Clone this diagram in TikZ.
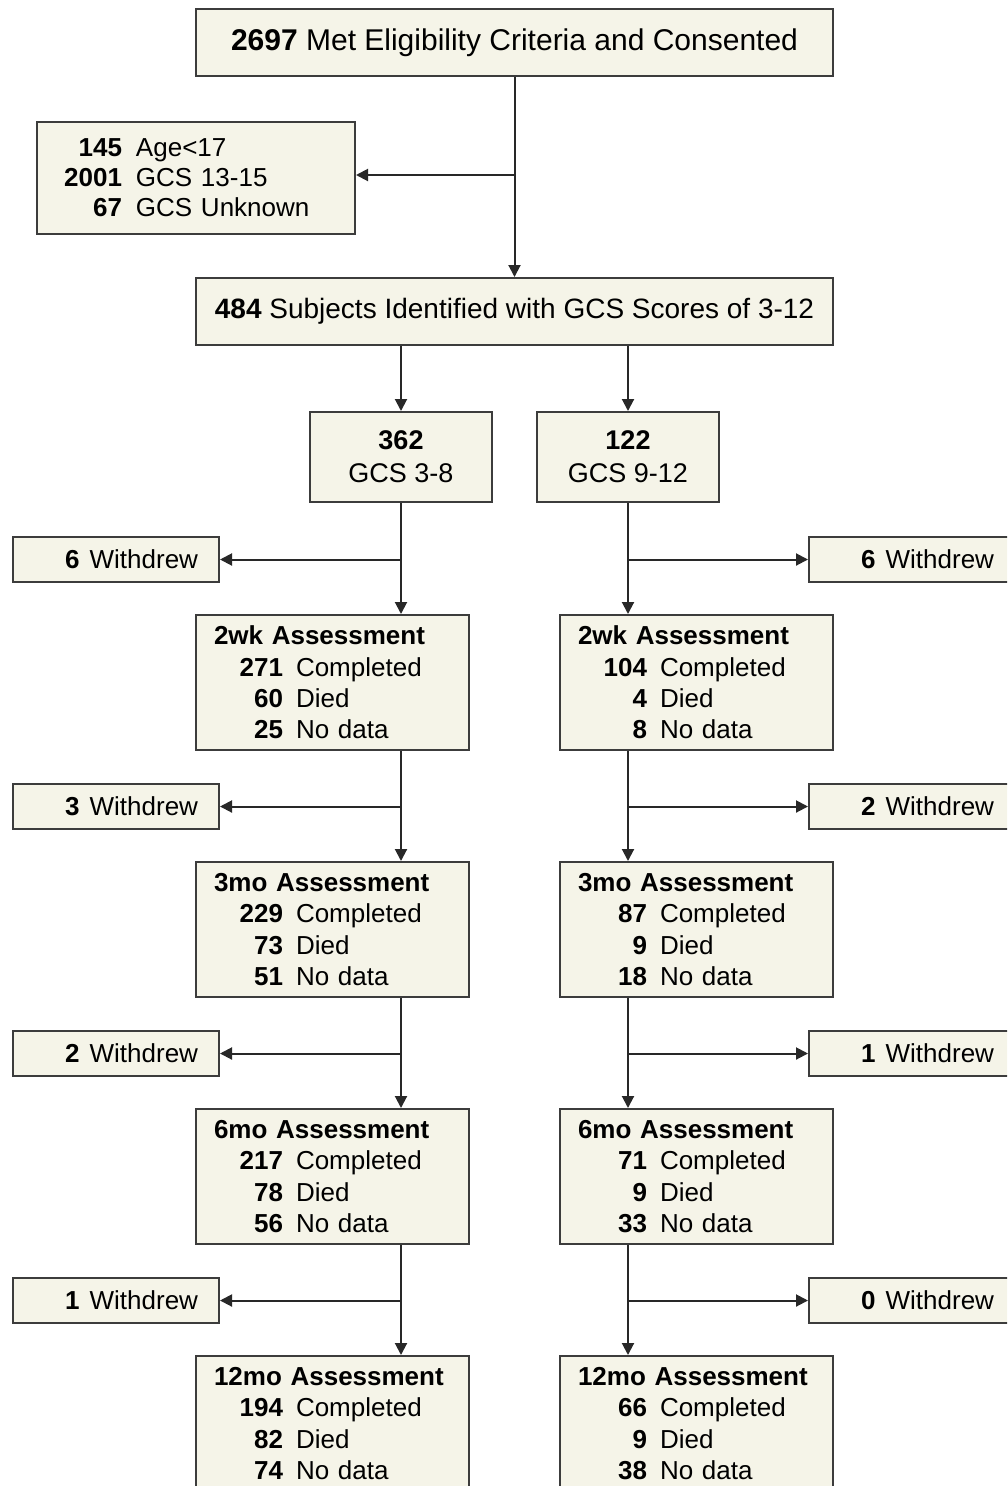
\documentclass[tikz,border=0pt]{standalone}
\usepackage{fontspec}
\setmainfont{Liberation Sans}
\usetikzlibrary{arrows.meta}
\definecolor{boxfill}{RGB}{245,244,232}
\definecolor{boxline}{RGB}{60,60,60}
\definecolor{conn}{RGB}{40,40,40}
\newcommand{\nm}[2]{\makebox[#1][r]{\textbf{#2}}}
\begin{document}
\begin{tikzpicture}[x=1pt,y=-1pt,
  box/.style={draw=boxline, fill=boxfill, line width=2pt, rectangle, inner sep=0pt, anchor=north west},
  widebox/.style={box, minimum width=637pt, minimum height=67pt, align=center, font=\fontsize{28}{33}\selectfont},
  gbox/.style={box, minimum width=182pt, minimum height=90pt, align=center, font=\fontsize{27}{33}\selectfont},
  abox/.style={box, text width=237pt, inner xsep=18pt, minimum height=135pt, align=left, font=\fontsize{26}{31.3}\selectfont},
  wbox/.style={box, text width=164pt, inner xsep=21pt, minimum height=45pt, align=right, font=\fontsize{26}{30}\selectfont},
  xbox/.style={box, text width=282pt, inner xsep=18pt, minimum height=112pt, align=left, font=\fontsize{26}{30}\selectfont},
  arr/.style={draw=conn, line width=2pt, -{Triangle[length=12pt,width=12pt]}},
  ]
\useasboundingbox (0,0) rectangle (1007,1486);
\clip (0,0) rectangle (1007,1486);

\node[widebox, font=\fontsize{30}{35}\selectfont] (top) at (195,8) {\textbf{2697} Met Eligibility Criteria and Consented};
\node[xbox] (excl) at (36,121) {\nm{67pt}{145}\hspace{14pt}Age<17\\\nm{67pt}{2001}\hspace{14pt}GCS 13-15\\\nm{67pt}{67}\hspace{14pt}GCS Unknown};
\node[widebox] (b484) at (195,277) {\textbf{484} Subjects Identified with GCS Scores of 3-12};
\node[gbox] (g38) at (309,411) {\textbf{362}\\GCS 3-8};
\node[gbox] (g912) at (536,411) {\textbf{122}\\GCS 9-12};

% withdrew boxes
\node[wbox] (w1L) at (12,536) {\textbf{6}\hspace{10pt}Withdrew};
\node[wbox] (w2L) at (12,783) {\textbf{3}\hspace{10pt}Withdrew};
\node[wbox] (w3L) at (12,1030) {\textbf{2}\hspace{10pt}Withdrew};
\node[wbox] (w4L) at (12,1277) {\textbf{1}\hspace{10pt}Withdrew};
\node[wbox] (w1R) at (808,536) {\textbf{6}\hspace{10pt}Withdrew};
\node[wbox] (w2R) at (808,783) {\textbf{2}\hspace{10pt}Withdrew};
\node[wbox] (w3R) at (808,1030) {\textbf{1}\hspace{10pt}Withdrew};
\node[wbox] (w4R) at (808,1277) {\textbf{0}\hspace{10pt}Withdrew};

% assessment boxes left
\node[abox] (a1L) at (195,614) {\textbf{2wk Assessment}\\\nm{69pt}{271}\hspace{13pt}Completed\\\nm{69pt}{60}\hspace{13pt}Died\\\nm{69pt}{25}\hspace{13pt}No data};
\node[abox] (a2L) at (195,861) {\textbf{3mo Assessment}\\\nm{69pt}{229}\hspace{13pt}Completed\\\nm{69pt}{73}\hspace{13pt}Died\\\nm{69pt}{51}\hspace{13pt}No data};
\node[abox] (a3L) at (195,1108) {\textbf{6mo Assessment}\\\nm{69pt}{217}\hspace{13pt}Completed\\\nm{69pt}{78}\hspace{13pt}Died\\\nm{69pt}{56}\hspace{13pt}No data};
\node[abox] (a4L) at (195,1355) {\textbf{12mo Assessment}\\\nm{69pt}{194}\hspace{13pt}Completed\\\nm{69pt}{82}\hspace{13pt}Died\\\nm{69pt}{74}\hspace{13pt}No data};
% assessment boxes right
\node[abox] (a1R) at (559,614) {\textbf{2wk Assessment}\\\nm{69pt}{104}\hspace{13pt}Completed\\\nm{69pt}{4}\hspace{13pt}Died\\\nm{69pt}{8}\hspace{13pt}No data};
\node[abox] (a2R) at (559,861) {\textbf{3mo Assessment}\\\nm{69pt}{87}\hspace{13pt}Completed\\\nm{69pt}{9}\hspace{13pt}Died\\\nm{69pt}{18}\hspace{13pt}No data};
\node[abox] (a3R) at (559,1108) {\textbf{6mo Assessment}\\\nm{69pt}{71}\hspace{13pt}Completed\\\nm{69pt}{9}\hspace{13pt}Died\\\nm{69pt}{33}\hspace{13pt}No data};
\node[abox] (a4R) at (559,1355) {\textbf{12mo Assessment}\\\nm{69pt}{66}\hspace{13pt}Completed\\\nm{69pt}{9}\hspace{13pt}Died\\\nm{69pt}{38}\hspace{13pt}No data};

% connectors top
\coordinate (exin) at ([yshift=3pt]excl.east);
\draw[arr] (top.south) -- (b484.north);
\draw[arr] (top.south |- exin) -- (exin);
\draw[arr] (g38.north |- b484.south) -- (g38.north);
\draw[arr] (g912.north |- b484.south) -- (g912.north);

% left column
\draw[arr] (g38.south) -- (g38.south |- a1L.north);
\draw[arr] (g38.south |- w1L.east) -- (w1L.east);
\draw[arr] (a1L.south -| g38.south) -- (a2L.north -| g38.south);
\draw[arr] (g38.south |- w2L.east) -- (w2L.east);
\draw[arr] (a2L.south -| g38.south) -- (a3L.north -| g38.south);
\draw[arr] (g38.south |- w3L.east) -- (w3L.east);
\draw[arr] (a3L.south -| g38.south) -- (a4L.north -| g38.south);
\draw[arr] (g38.south |- w4L.east) -- (w4L.east);

% right column
\draw[arr] (g912.south) -- (g912.south |- a1R.north);
\draw[arr] (g912.south |- w1R.west) -- (w1R.west);
\draw[arr] (a1R.south -| g912.south) -- (a2R.north -| g912.south);
\draw[arr] (g912.south |- w2R.west) -- (w2R.west);
\draw[arr] (a2R.south -| g912.south) -- (a3R.north -| g912.south);
\draw[arr] (g912.south |- w3R.west) -- (w3R.west);
\draw[arr] (a3R.south -| g912.south) -- (a4R.north -| g912.south);
\draw[arr] (g912.south |- w4R.west) -- (w4R.west);
\end{tikzpicture}
\end{document}
